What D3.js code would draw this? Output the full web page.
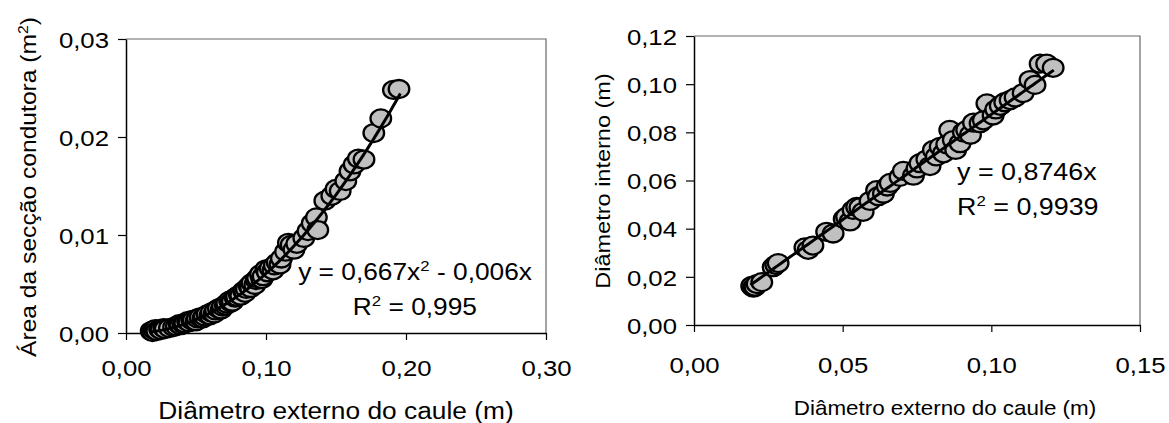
<!DOCTYPE html>
<html>
<head>
<meta charset="UTF-8">
<script src="https://cdn.jsdelivr.net/npm/d3@7"></script>
<style>
body{
  margin:0;
  background-color:#fff;
}
text{
  font-family: Arial, "Liberation Sans", sans-serif;
  fill:#000;
}
</style>
</head>
<body>
<script>
// two scatter panels side by side, picture is stretched a bit sideways so text + markers get sx

var width = 1169
var height = 423
var sx = 1.12

// left panel: area of conducting section vs external stem diameter
var leftX = [0.018,0.019,0.020,0.021,0.022,0.024,0.025,0.027,0.028,0.031,0.034,0.036,0.038,0.039,0.041,0.042,0.044,0.045,0.047,0.048,0.050,0.051,0.053,0.055,0.056,0.058,0.060,0.061,0.063,0.064,0.066,0.068,0.069,0.071,0.072,0.074,0.075,0.076,0.078,0.079,0.081,0.082,0.084,0.085,0.086,0.088,0.089,0.090,0.092,0.093,0.094,0.096,0.097,0.098,0.100,0.101,0.103,0.105,0.106,0.108,0.110,0.111,0.114,0.116,0.118,0.120,0.122,0.127,0.130,0.133,0.136,0.137,0.142,0.147,0.150,0.153,0.157,0.160,0.163,0.166,0.170,0.177,0.182,0.191,0.195]
var leftY = [0.0002,0.0001,0.0003,0.0004,0.0002,0.0004,0.0003,0.0005,0.0004,0.0005,0.0006,0.0007,0.0009,0.0008,0.0009,0.0010,0.0012,0.0011,0.0013,0.0013,0.0012,0.0015,0.0016,0.0015,0.0017,0.0019,0.0018,0.0021,0.0020,0.0023,0.0025,0.0024,0.0027,0.0028,0.0030,0.0033,0.0031,0.0032,0.0036,0.0037,0.0039,0.0038,0.0043,0.0041,0.0045,0.0048,0.0046,0.0051,0.0049,0.0054,0.0056,0.0060,0.0055,0.0058,0.0065,0.0062,0.0066,0.0064,0.0069,0.0072,0.0070,0.0076,0.0083,0.0092,0.0090,0.0085,0.0091,0.0097,0.0104,0.0112,0.0118,0.0105,0.0135,0.0140,0.0147,0.0145,0.0155,0.0165,0.0172,0.0178,0.0177,0.0204,0.0219,0.0248,0.0249]
var leftXTicks = [0, 0.1, 0.2, 0.3]
var leftYTicks = [0, 0.01, 0.02, 0.03]
var leftFit = {a: 0.667, b: -0.006, from: 0.018, to: 0.196}

// right panel: internal diameter vs external diameter
var rightX = [0.0194,0.0200,0.0205,0.0212,0.0228,0.0266,0.0275,0.0283,0.0373,0.0384,0.0400,0.0446,0.0468,0.0505,0.0513,0.0525,0.0535,0.0547,0.0558,0.0569,0.0592,0.0614,0.0620,0.0637,0.0650,0.0660,0.0693,0.0704,0.0738,0.0750,0.0760,0.0783,0.0794,0.0805,0.0815,0.0828,0.0839,0.0850,0.0860,0.0872,0.0880,0.0895,0.0906,0.0917,0.0930,0.0940,0.0962,0.0973,0.0985,0.1006,0.1015,0.1030,0.1045,0.1063,0.1080,0.1107,0.1130,0.1147,0.1164,0.1186,0.1208]
var rightY = [0.0162,0.0155,0.0159,0.0170,0.0178,0.0240,0.0250,0.0257,0.0322,0.0312,0.0330,0.0387,0.0380,0.0440,0.0450,0.0430,0.0478,0.0490,0.0488,0.0470,0.0515,0.0560,0.0535,0.0545,0.0575,0.0590,0.0615,0.0640,0.0620,0.0650,0.0672,0.0688,0.0660,0.0727,0.0700,0.0740,0.0713,0.0750,0.0810,0.0768,0.0727,0.0755,0.0800,0.0810,0.0790,0.0840,0.0838,0.0850,0.0920,0.0870,0.0895,0.0910,0.0925,0.0934,0.0945,0.0963,0.1017,0.0997,0.1085,0.1085,0.1068]
var rightXTicks = [0, 0.05, 0.10, 0.15]
var rightYTicks = [0, 0.02, 0.04, 0.06, 0.08, 0.10, 0.12]
var rightFit = {a: 0, b: 0.8746, from: 0.019, to: 0.121}

var fmt = d => d3.format(".2f")(d).replace(".", ",")

var svg = d3.select('body')
    .append('svg')
    .attr('width', width)
    .attr('height', height)

function stext(g, x, y, size, anchor){
  return g.append("text")
    .attr("transform", "translate(" + x + "," + y + ") scale(" + sx + ",1)")
    .style("font-size", size + "px")
    .attr("text-anchor", anchor)
}

function panel(opt){
  var g = svg.append("g")
  var x = d3.scaleLinear().domain(opt.xdom).range([opt.left, opt.right])
  var y = d3.scaleLinear().domain(opt.ydom).range([opt.bottom, opt.top])

  // plot frame top + right
  g.append("path")
    .attr("d", "M" + opt.left + "," + opt.top + "H" + opt.right + "V" + opt.bottom)
    .attr("fill", "none")
    .attr("stroke", "#666")
    .attr("stroke-width", 1.2)

  var xa = g.append("g")
    .attr("transform", "translate(0," + opt.bottom + ")")
    .call(d3.axisBottom(x).tickValues(opt.xticks).tickFormat(fmt).tickSize(7).tickSizeOuter(0))
  var ya = g.append("g")
    .attr("transform", "translate(" + opt.left + ",0)")
    .call(d3.axisLeft(y).tickValues(opt.yticks).tickFormat(fmt).tickSize(8).tickSizeOuter(0))

  ;[xa, ya].forEach(a => {
    a.attr("font-size", null).attr("font-family", null)
    a.select(".domain").attr("stroke", "#000").attr("stroke-width", 1.5)
    a.selectAll(".tick line").attr("stroke", "#000").attr("stroke-width", 1.2)
    a.selectAll("text").style("font-size", opt.tickSize + "px").attr("fill", "#000")
  })
  xa.selectAll("text").attr("y", opt.xLabGap).attr("dy", "0.71em").attr("transform", "scale(" + sx + ",1)")
  ya.selectAll("text").attr("x", -opt.yLabGap / sx).attr("dy", "0.36em").attr("transform", "scale(" + sx + ",1)")

  // fitted curve
  var fx = d3.range(0, 101).map(i => opt.fit.from + (opt.fit.to - opt.fit.from) * i / 100)
  var line = d3.line().x(d => x(d)).y(d => y(opt.fit.a * d * d + opt.fit.b * d))

  g.selectAll(".pt")
    .data(d3.range(opt.xs.length))
    .enter().append("ellipse")
    .attr("class", "pt")
    .attr("cx", i => x(opt.xs[i]))
    .attr("cy", i => y(opt.ys[i]))
    .attr("rx", 10.3)
    .attr("ry", 9)
    .attr("fill", "#c0c0c0")
    .attr("stroke", "#000")
    .attr("stroke-width", 2.3)

  g.append("path")
    .datum(fx)
    .attr("d", line)
    .attr("fill", "none")
    .attr("stroke", "#000")
    .attr("stroke-width", 3)

  return {g: g, x: x, y: y}
}

var L = panel({
  left: 126, right: 546, top: 39, bottom: 333,
  xdom: [0, 0.3], ydom: [0, 0.03],
  xticks: leftXTicks, yticks: leftYTicks,
  xs: leftX, ys: leftY, fit: leftFit,
  tickSize: 23, xLabGap: 27, yLabGap: 17
})

var R = panel({
  left: 694, right: 1140, top: 36, bottom: 325,
  xdom: [0, 0.15], ydom: [0, 0.12],
  xticks: rightXTicks, yticks: rightYTicks,
  xs: rightX, ys: rightY, fit: rightFit,
  tickSize: 23, xLabGap: 32, yLabGap: 17
})

// axis titles
stext(L.g, 336, 419, 23.5, "middle").text("Diâmetro externo do caule (m)")
stext(R.g, 945, 415, 20, "middle").text("Diâmetro externo do caule (m)")

var yt = L.g.append("text")
    .attr("transform", "translate(36,187) rotate(-90) scale(" + sx + ",1)")
    .style("font-size", "22px")
    .attr("text-anchor", "middle")
yt.append("tspan").text("Área da secção condutora (m")
yt.append("tspan").style("font-size", "14px").attr("dy", -8).text("2")
yt.append("tspan").attr("dy", 8).text(")")

R.g.append("text")
    .attr("transform", "translate(610,181) rotate(-90) scale(" + sx + ",1)")
    .style("font-size", "21px")
    .attr("text-anchor", "middle")
    .text("Diâmetro interno (m)")

// equations
var e1 = stext(L.g, 532, 280, 23.5, "end")
e1.append("tspan").text("y = 0,667x")
e1.append("tspan").style("font-size", "15px").attr("dy", -9).text("2")
e1.append("tspan").attr("dy", 9).text(" - 0,006x")
var e2 = stext(L.g, 477, 315, 23.5, "end")
e2.append("tspan").text("R")
e2.append("tspan").style("font-size", "15px").attr("dy", -9).text("2")
e2.append("tspan").attr("dy", 9).text(" = 0,995")

stext(R.g, 957, 180, 24, "start").text("y = 0,8746x")
var e4 = stext(R.g, 957, 215, 24, "start")
e4.append("tspan").text("R")
e4.append("tspan").style("font-size", "15px").attr("dy", -9).text("2")
e4.append("tspan").attr("dy", 9).text(" = 0,9939")
</script>
</body>
</html>
